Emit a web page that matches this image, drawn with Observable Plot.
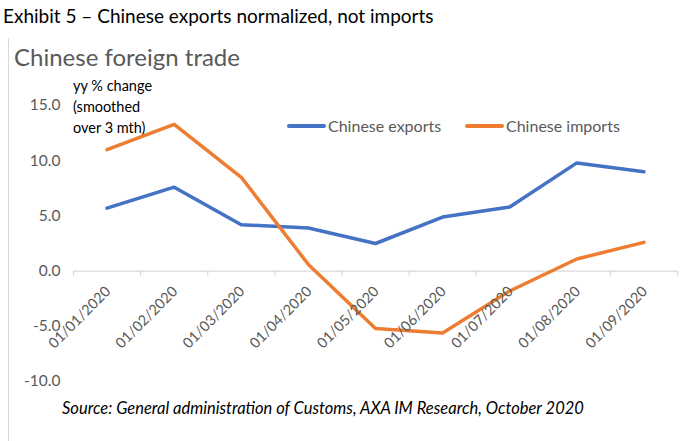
<!DOCTYPE html>
<html>
<head>
<meta charset="utf-8">
<script src="https://cdn.jsdelivr.net/npm/d3@7"></script>
<script src="https://cdn.jsdelivr.net/npm/@observablehq/plot@0.6"></script>
<style>
  html, body { margin: 0; padding: 0; background: #fff; }
  #wrap { position: relative; width: 689px; height: 441px; overflow: hidden; font-family: Lato, "Noto Sans", sans-serif; }
  #title { position: absolute; left: 3px; top: 4px; font-size: 19px; color: #000; white-space: nowrap; }
  #frame { position: absolute; left: 8px; top: 38px; width: 0; height: 410px; border-left: 1px solid #d9d9d9; }
  #subtitle { position: absolute; left: 14px; top: 42px; font-size: 24px; color: #595959; white-space: nowrap; }
  #unit { position: absolute; left: 73px; top: 75px; font-size: 14.5px; line-height: 21px; color: #000; }
  #chart { position: absolute; left: 0; top: 35px; }
  .leg { position: absolute; top: 116px; font-size: 16px; color: #595959; display: flex; align-items: center; white-space: nowrap; }
  .sw { width: 39px; height: 4px; border-radius: 2px; margin-right: 2px; }
  #source { position: absolute; left: 62px; top: 398px; font-size: 16.5px; font-style: italic; color: #000; white-space: nowrap; }
</style>
</head>
<body>
<div id="wrap">
  <div id="title"></div>
  <div id="frame"></div>
  <div id="subtitle"></div>
  <div id="unit"></div>
  <div id="chart"></div>
  <div id="legend"></div>
  <div id="source"></div>
</div>
<script>
const titleText = "Exhibit 5 – Chinese exports normalized, not imports";
const subtitleText = "Chinese foreign trade";
const unitLines = ["yy % change", "(smoothed", "over 3 mth)"];
const sourceText = "Source: General administration of Customs, AXA IM Research, October 2020";

const dates = ["01/01/2020","01/02/2020","01/03/2020","01/04/2020","01/05/2020","01/06/2020","01/07/2020","01/08/2020","01/09/2020"];
const exportsVals = [5.7, 7.6, 4.2, 3.9, 2.5, 4.9, 5.8, 9.8, 9.0];
const importsVals = [11.0, 13.3, 8.5, 0.6, -5.2, -5.6, -1.8, 1.1, 2.6];
const seriesNames = ["Chinese exports", "Chinese imports"];
const seriesColors = ["#4472C4", "#ED7D31"];
const yTicks = [-10, -5, 0, 5, 10, 15];

document.getElementById("title").textContent = titleText;
document.getElementById("subtitle").textContent = subtitleText;
document.getElementById("unit").innerHTML = unitLines.join("<br>");
document.getElementById("source").textContent = sourceText;

const legendX = [287, 465];
const legend = document.getElementById("legend");
seriesNames.forEach((n, k) => {
  const item = document.createElement("div");
  item.className = "leg";
  item.style.left = legendX[k] + "px";
  item.innerHTML = `<span class="sw" style="background:${seriesColors[k]}"></span><span>${n}</span>`;
  legend.appendChild(item);
});

const rows = [];
dates.forEach((d, i) => {
  rows.push({i, date: d, series: seriesNames[0], value: exportsVals[i]});
  rows.push({i, date: d, series: seriesNames[1], value: importsVals[i]});
});
const idx = dates.map((d, i) => i);
const bounds = d3.range(dates.length + 1).map(b => b - 0.5);

const chart = Plot.plot({
  width: 689,
  height: 406,
  marginLeft: 73,
  marginRight: 12,
  marginTop: 70,
  marginBottom: 60,
  style: { fontFamily: "Lato, 'Noto Sans', sans-serif", background: "transparent", overflow: "visible" },
  x: { type: "linear", domain: [-0.5, dates.length - 0.5], axis: null },
  y: { domain: [-10, 15], axis: null },
  color: { domain: seriesNames, range: seriesColors },
  marks: [
    Plot.axisY({ ticks: yTicks, tickSize: 0, tickPadding: 13, tickFormat: d => d.toFixed(1), fontSize: 15.5, color: "#595959", label: null }),
    Plot.ruleY([0], { x1: -0.5, x2: dates.length - 0.5, stroke: "#d9d9d9", strokeWidth: 1.2 }),
    Plot.ruleX(bounds, { x: d => d, y1: 0, y2: -0.45, stroke: "#d9d9d9", strokeWidth: 1.2 }),
    Plot.line(rows, { x: "i", y: "value", z: "series", stroke: "series", strokeWidth: 3.5, strokeLinejoin: "round", strokeLinecap: "round" }),
    Plot.text(idx, { x: d => d, y: 0, text: d => dates[d], rotate: -45, textAnchor: "end", dy: 18, dx: 1, fontSize: 14.5, fill: "#595959" })
  ]
});
document.getElementById("chart").appendChild(chart);
</script>
</body>
</html>
